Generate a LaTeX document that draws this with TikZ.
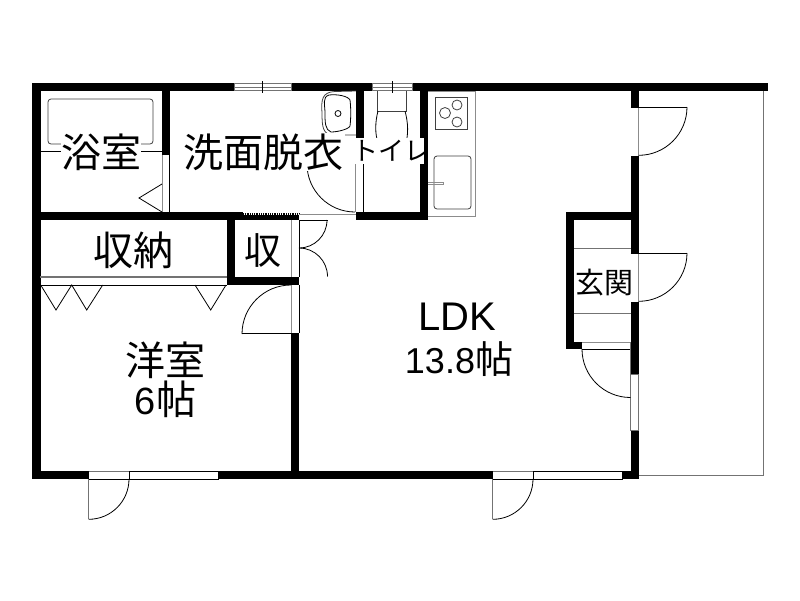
\documentclass[tikz,border=0pt]{standalone}
\usepackage{fontspec}
\setmainfont{Liberation Sans}
\newfontfamily\cjk{Noto Sans CJK JP}
\tikzset{
  wall/.style={fill=black,draw=none},
  opening/.style={fill=white,draw=none},
  thin line/.style={draw=black,line width=0.8pt},
  gray line/.style={draw=black!55,line width=1pt},
  fixture/.style={draw=black!75,line width=0.8pt},
  pale line/.style={draw=black!45,line width=1pt},
  room/.style={inner sep=0pt,font=\fontsize{40}{40}\selectfont\cjk},
  halo/.style={fill=white,draw=none}
}
\begin{document}
\begin{tikzpicture}[x=1pt,y=-1pt]
\useasboundingbox (0,0) rectangle (800,600);
\fill[white] (0,0) rectangle (800,600);
% balcony
\draw[gray line] (763.5,91) -- (763.5,475) -- (639,475);
% kitchen counter
\draw[pale line] (428,91) -- (475.5,91) -- (475.5,216.5) -- (428,216.5);
\draw[fixture] (435,97) rectangle (467,129);
\draw[fixture] (457,105) circle (5);
\draw[fixture] (445,113) circle (5.5);
\draw[fixture] (457,122) circle (5);
\draw[fixture,rounded corners=3pt] (434,156) rectangle (471,209);
\draw[pale line] (428,182) -- (443,182) -- (443,184.5) -- (428,184.5);
% walls
\fill[wall] (32,83) rectangle (767.5,91);
\fill[wall] (32,83) rectangle (40.5,479);
\fill[wall] (32,471) rectangle (639,479);
\fill[wall] (161.7,91) rectangle (169.7,155);
\fill[wall] (32,212) rectangle (243,220.3);
\fill[wall] (243,215.3) rectangle (299,220.3);
\fill[wall] (226.7,212) rectangle (234.7,285);
\fill[wall] (226.7,277) rectangle (299,285);
\fill[wall] (291,333) rectangle (299,479);
\fill[wall] (356,91) rectangle (363.7,164);
\fill[wall] (356,212) rectangle (428,220.3);
\fill[wall] (420,91) rectangle (428,220.3);
\fill[wall] (630.7,91) rectangle (638.7,479);
\fill[wall] (566,212) rectangle (638.7,220);
\fill[wall] (566,212) rectangle (574,349.3);
\fill[wall] (566,342) rectangle (582,349.3);
% top windows
\foreach \a/\b/\m in {234/291/262,372/412/392}{
  \fill[opening] (\a,83) rectangle (\b,91);
  \draw[gray line] (\a,83.5) rectangle (\b,90.5);
  \draw[gray line] (\a,87) -- (\b,87);
  \draw[thin line] (\m,81) -- (\m,93);
}
% bath
\draw[thin line] (40,151) -- (162,151);
\draw[fixture,rounded corners=3pt] (48,99) rectangle (153,144);
\draw[pale line] (162.5,155) -- (162.5,212);
\draw[thin line] (169.7,155) -- (169.7,212);
\draw[thin line] (162,184) -- (139,198) -- (162,212);
% washroom
\draw[fixture] (356,91) -- (335,91.5) .. controls (322,92) and (321,100) .. (322,113) .. controls (322,127) and (323,134) .. (332,135) -- (356,135);
\draw[thin line] (329,95) .. controls (322,97) and (325,105) .. (325,113) .. controls (325,122) and (325,130) .. (331,132) .. controls (338,132) and (349,129) .. (350,126) .. controls (351,118) and (351,108) .. (350,100) .. controls (348,96) and (337,94) .. (329,95) -- cycle;
\draw[thin line] (338,113.5) circle (3);
\draw[pale line] (355.7,164) -- (355.7,212);
\draw[thin line] (363.5,164) -- (363.5,212);
\draw[thin line] (344,163.5) -- (363.5,163.5);
\draw[thin line] (355,212) arc[start angle=90,end angle=180,radius=48];
% toilet
\draw[fixture] (377,91) -- (377,111) -- (406,111) -- (406,91);
\draw[thin line] (378,111) .. controls (375,122) and (375,135) .. (378,142) .. controls (381,150) and (402,152) .. (405,145) .. controls (409,135) and (408,122) .. (405,111);
% hall door strip
\draw[thin line,densely dotted,line width=1.5pt] (243,214) -- (299,214);
\draw[pale line] (299,214) -- (355.5,214);
\draw[thin line] (299,220) -- (328,220);
% small closet doors
\draw[pale line] (291.5,220) -- (291.5,277);
\draw[thin line] (299,220) -- (299,277);
\draw[thin line] (327,220) arc[start angle=0,end angle=90,radius=28];
\draw[thin line] (299,248) arc[start angle=-90,end angle=0,radius=28.5];
% storage
\draw[gray line,line width=1.5pt] (40,277) -- (226.7,277);
\draw[thin line] (40,285) -- (226.7,285);
\draw[thin line] (40.7,285) -- (56,310) -- (71.7,285) -- (86.7,310) -- (102.7,285);
\draw[thin line] (195,285) -- (210.7,310) -- (226,285);
% bedroom door
\draw[pale line] (291.5,285) -- (291.5,333);
\draw[thin line] (299,285) -- (299,333);
\draw[thin line] (242,333) -- (291,333);
\draw[thin line] (291,285) arc[start angle=-90,end angle=-180,radius=49];
% right side doors
\foreach \t in {107,253}{
  \fill[opening] (630.7,\t) rectangle (638.7,\t+48.5);
  \draw[pale line] (638.7,\t) -- (638.7,\t+48.5);
  \draw[thin line] (630.7,\t) -- (687,\t);
  \draw[thin line] (687,\t) arc[start angle=0,end angle=90,radius=48.3];
}
\fill[opening] (630.7,374) rectangle (638.7,430);
\draw[gray line] (630.5,374) rectangle (638.7,430);
% entry
\draw[gray line] (574,248.5) -- (630.7,248.5);
\draw[gray line] (574,313.5) -- (630.7,313.5);
\fill[opening] (582,342) rectangle (630.7,349.3);
\draw[pale line] (582,342) -- (630.7,342);
\draw[thin line] (582,349) -- (630.7,349);
\draw[gray line] (630.2,342) -- (630.2,374);
\draw[thin line] (582,349) arc[start angle=180,end angle=90,radius=48.5];
% bottom doors and windows
\foreach \a/\b/\c in {88.7/129/218,492.7/533/622}{
  \fill[opening] (\a,471) rectangle (\c,479);
  \draw[gray line] (\a,471) -- (\b,471);
  \draw[thin line] (\a,479) -- (\b,479);
  \draw[thin line] (\b,471) rectangle (\c,479);
  \draw[gray line] (\a,479) -- (\a,519);
  \draw[thin line] (\b,479) arc[start angle=0,end angle=90,radius=40.3];
}
% text halos
\fill[halo] (61,133) rectangle (141,171);
\fill[halo] (182,133) rectangle (345,171);
\fill[halo] (345,138) rectangle (424,164);
\fill[halo] (574,268) rectangle (633,298);
% labels
\node[room] (bath) at (101,152) {浴室};
\node[room] (wash) at (263.5,152) {洗面脱衣};
\node[room,font=\fontsize{26}{26}\selectfont\cjk] (wc) at (391,151) {トイレ};
\node[room] (storage) at (133.5,250) {収納};
\node[room,font=\fontsize{37}{37}\selectfont\cjk] (closet) at (262.5,250) {収};
\node[room,font=\fontsize{29}{29}\selectfont\cjk] (entry) at (604,283) {玄関};
\node[room] (bedroom) at (165.5,360) {洋室};
\node[room] (bedsize) at (165.5,399) {{\rmfamily\fontsize{38}{38}\selectfont 6}帖};
\node[inner sep=0pt,font=\fontsize{40}{40}\selectfont] (ldk) at (457.5,317) {LDK};
\node[inner sep=0pt,font=\fontsize{36}{36}\selectfont] (ldksize) at (459,359.5) {13.8{\cjk\fontsize{38}{38}\selectfont 帖}};
\end{tikzpicture}
\end{document}
